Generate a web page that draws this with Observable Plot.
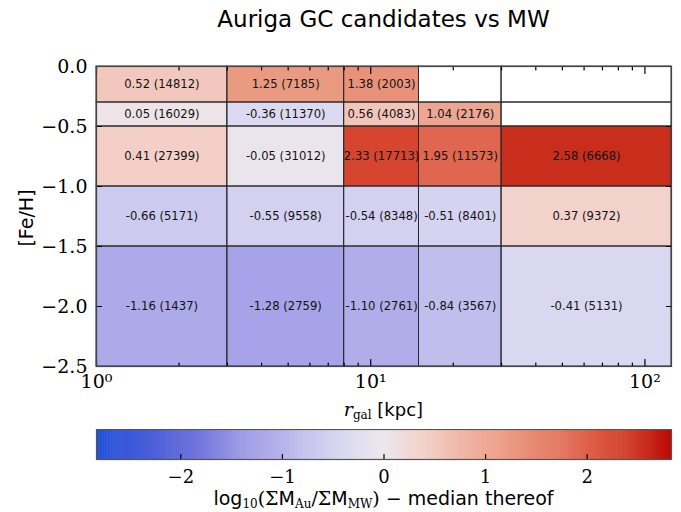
<!DOCTYPE html>
<html><head><meta charset="utf-8">
<script src="https://cdn.jsdelivr.net/npm/d3@7"></script>
<script src="https://cdn.jsdelivr.net/npm/@observablehq/plot@0.6"></script>
<style>
body{margin:0;background:#fff;}
#wrap{position:relative;width:681px;height:512px;overflow:hidden;background:#fff;}
#title{position:absolute;left:96px;width:575px;top:8px;text-align:center;font-family:"DejaVu Sans",sans-serif;font-size:23px;line-height:23px;color:#000;white-space:nowrap;}
#main{position:absolute;left:0;top:0;}
#cbar{position:absolute;left:0;top:429px;}
#ylab{position:absolute;left:-24px;width:100px;top:207px;height:22px;text-align:center;transform:rotate(-90deg);font-family:"DejaVu Sans",sans-serif;font-size:19px;line-height:22px;white-space:nowrap;}
#xlab{position:absolute;left:96px;width:575px;top:400px;text-align:center;font-family:"DejaVu Sans",sans-serif;font-size:18px;line-height:18px;white-space:nowrap;}
#cap{position:absolute;left:96px;width:575px;top:489px;text-align:center;font-family:"DejaVu Sans",sans-serif;font-size:19px;line-height:19px;white-space:nowrap;}
.it{font-family:"DejaVu Serif",serif;font-style:italic;font-size:19px;}
.rm{font-family:"DejaVu Serif",serif;}
sub{font-family:"DejaVu Serif",serif;font-size:12px;vertical-align:-3px;line-height:0;}
</style></head><body><div id="wrap">
<div id="title">Auriga GC candidates vs MW</div>
<div id="main"></div>
<div id="ylab">[Fe/H]</div>
<div id="xlab"><span class="it">r</span><sub>gal</sub> [kpc]</div>
<div id="cbar"></div>
<div id="cap">log<sub>10</sub><span class="rm">(Σ</span>M<sub>Au</sub><span class="rm">/Σ</span>M<sub>MW</sub><span class="rm">)</span> <span class="rm">−</span> median thereof</div>
</div>
<script>
// ---- data ----
const rEdges = [1, 3, 8, 15, 30, 125];               // r_gal bin edges [kpc]
const fehEdges = [0, -0.3, -0.5, -1.0, -1.5, -2.5];  // [Fe/H] bin edges
const medianDiff = [
  [0.52, 1.25, 1.38, null, null],
  [0.05, -0.36, 0.56, 1.04, null],
  [0.41, -0.05, 2.33, 1.95, 2.58],
  [-0.66, -0.55, -0.54, -0.51, 0.37],
  [-1.16, -1.28, -1.10, -0.84, -0.41]
];
const counts = [
  [14812, 7185, 2003, null, null],
  [16029, 11370, 4083, 2176, null],
  [27399, 31012, 17713, 11573, 6668],
  [5171, 9558, 8348, 8401, 9372],
  [1437, 2759, 2761, 3567, 5131]
];
const xTicks = [1, 10, 100];
const xTickLabels = ["10⁰", "10¹", "10²"];
const xMinorTicks = [2, 3, 4, 5, 6, 7, 8, 9, 20, 30, 40, 50, 60, 70, 80, 90];
const yTicks = [0, -0.5, -1.0, -1.5, -2.0, -2.5];
const yTickLabels = ["0.0", "−0.5", "−1.0", "−1.5", "−2.0", "−2.5"];
const cbTicks = [-2, -1, 0, 1, 2];
const cbTickLabels = ["−2", "−1", "0", "1", "2"];
const colorLimit = 2.83;
const colorStopValues = [-2.83, -2.0, -1.28, -1.0, -0.6, -0.36, 0, 0.4, 0.55, 1.04, 1.3, 1.95, 2.33, 2.58, 2.83];
const colorStopColors = ["#2150da", "#6068da", "#a7a3e8", "#b6b3eb", "#d0ceef", "#dcdaf0", "#ece7ec", "#f3d0c8", "#f2c6bc", "#eea591", "#ea977f", "#e0664f", "#d5452f", "#c92d1c", "#bb0808"];

// ---- build ----
const cells = [];
medianDiff.forEach((row, i) => row.forEach((v, j) => cells.push({
  x1: rEdges[j], x2: rEdges[j + 1], y1: fehEdges[i], y2: fehEdges[i + 1], v, n: counts[i][j]
})));
const filled = cells.filter(d => d.v != null);

const stopScale = d3.scaleLinear().domain(colorStopValues).range(colorStopColors).interpolate(d3.interpolateRgb);
const colorOpts = {type: "linear", domain: [-colorLimit, colorLimit], interpolate: t => stopScale(-colorLimit + t * 2 * colorLimit)};

const tickShape = {draw(context, l) { context.moveTo(0, 0); context.lineTo(0, -l); }};
const tk = (data, o) => Plot.vector(data, {anchor: "start", shape: tickShape, stroke: "#000", strokeWidth: 1.2, ...o});
const serifStyle = {background: "transparent", fontFamily: "'DejaVu Serif', serif", fontSize: "19px"};

function serifAxes(svg) {
  d3.select(svg).selectAll("text").each(function () {
    if (!this.closest('g[aria-label="text"]')) {
      this.style.fontFamily = "'DejaVu Serif', serif";
    }
  });
}

const main = Plot.plot({
  width: 681, height: 400,
  marginLeft: 96, marginRight: 10, marginTop: 66, marginBottom: 34,
  style: serifStyle,
  x: {type: "log", domain: [1, 125]},
  y: {domain: [-2.5, 0]},
  color: colorOpts,
  marks: [
    Plot.rect(cells, {x1: "x1", x2: "x2", y1: "y1", y2: "y2", fill: "white"}),
    Plot.rect(filled, {x1: "x1", x2: "x2", y1: "y1", y2: "y2", fill: "v"}),
    Plot.rect(cells, {x1: "x1", x2: "x2", y1: "y1", y2: "y2", fill: "none", stroke: "#2a2a2a", strokeWidth: 1}),
    Plot.text(filled, {
      x: d => Math.sqrt(d.x1 * d.x2), y: d => (d.y1 + d.y2) / 2,
      text: d => `${d.v.toFixed(2)} (${d.n})`,
      fontFamily: "DejaVu Sans", fontSize: 11.6, fill: "#111"
    }),
    tk(xTicks, {x: d => d, frameAnchor: "bottom", length: 7}),
    tk(xMinorTicks, {x: d => d, frameAnchor: "bottom", length: 3.5}),
    tk(xTicks, {x: d => d, frameAnchor: "top", length: 7, rotate: 180}),
    tk(xMinorTicks, {x: d => d, frameAnchor: "top", length: 3.5, rotate: 180}),
    tk(yTicks, {y: d => d, frameAnchor: "left", length: 5, rotate: 90}),
    tk(yTicks, {y: d => d, frameAnchor: "right", length: 5, rotate: -90}),
    Plot.axisX(xTicks, {tickSize: 0, tickPadding: 8, tickFormat: d => xTickLabels[xTicks.indexOf(d)], fontSize: 19, label: null}),
    Plot.axisY(yTicks, {tickSize: 0, tickPadding: 9, tickFormat: d => yTickLabels[yTicks.indexOf(d)], fontSize: 19, label: null}),
    Plot.frame({stroke: "#444", strokeWidth: 1.2})
  ]
});
serifAxes(main);
document.getElementById("main").appendChild(main);

const cbSteps = d3.range(-colorLimit, colorLimit, 0.02);
const cbar = Plot.plot({
  width: 681, height: 60,
  marginLeft: 96, marginRight: 10, marginTop: 0, marginBottom: 30,
  style: serifStyle,
  x: {domain: [-colorLimit, colorLimit]},
  color: colorOpts,
  marks: [
    Plot.rect(cbSteps, {x1: d => d, x2: d => Math.min(d + 0.025, colorLimit), fill: d => d + 0.01}),
    tk(cbTicks, {x: d => d, frameAnchor: "bottom", length: 5}),
    Plot.axisX(cbTicks, {tickSize: 0, tickPadding: 11, tickFormat: d => cbTickLabels[cbTicks.indexOf(d)], fontSize: 18, label: null}),
    Plot.frame({stroke: "#555", strokeWidth: 1.2})
  ]
});
serifAxes(cbar);
document.getElementById("cbar").appendChild(cbar);
</script>
</body></html>
